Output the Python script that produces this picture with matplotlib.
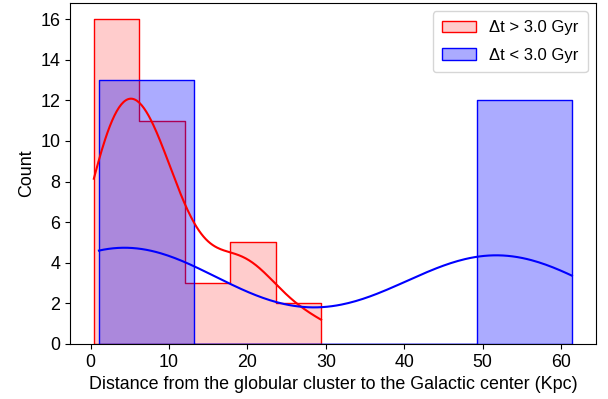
import numpy as np
import matplotlib
matplotlib.use("Agg")
import matplotlib.pyplot as plt
import seaborn as sns

plt.rcParams["font.family"] = ["Liberation Sans", "DejaVu Sans"]
plt.rcParams["font.size"] = 12.9

# distances (Kpc) of the clusters in each age-difference group
dist_old = [0.4, 0.5, 0.8, 1.1, 1.5, 1.9, 2.3, 2.7, 3.1, 3.5, 3.9, 4.3, 4.8, 5.2, 5.7, 6.1,
            6.4, 6.8, 7.2, 7.6, 8.0, 8.5, 9.0, 9.6, 10.3, 11.0, 11.8,
            13.5, 15.5, 17.2,
            18.3, 19.2, 20.0, 21.0, 22.5,
            25.5, 29.4]
dist_young = [1.05, 1.5, 2.0, 2.5, 3.0, 3.0, 3.5, 4.0, 4.5, 5.0, 6.0, 8.0, 12.9,
              49.4, 49.6, 49.8, 50.0, 50.3, 50.6, 51.0, 51.5, 52.2, 53.5, 55.0, 61.4]

fig, ax = plt.subplots(figsize=(6.08, 3.99), dpi=100)
fig.subplots_adjust(left=0.115, right=0.98, top=0.9925, bottom=0.138)

sns.histplot(dist_old, bins=5, kde=True, element="step", color="red", alpha=0.2,
             label="Δt > 3.0 Gyr", ax=ax)
sns.histplot(dist_young, bins=5, kde=True, element="step", color="blue", alpha=0.33,
             label="Δt < 3.0 Gyr", ax=ax)

ax.set_xlabel("Distance from the globular cluster to the Galactic center (Kpc)")
ax.set_ylabel("Count")
ax.legend(loc="upper right", fontsize=12, labelspacing=0.75, borderpad=0.55)

fig.savefig("out.png", dpi=100)
